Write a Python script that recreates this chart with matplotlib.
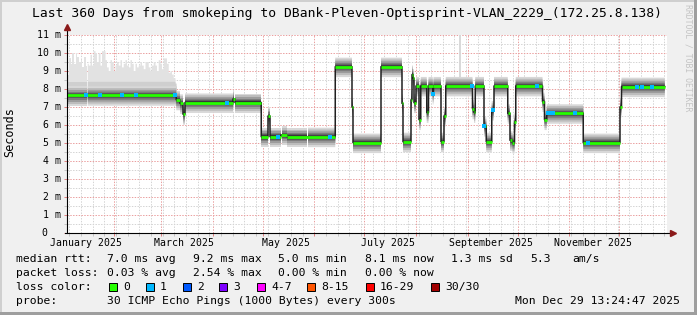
import numpy as np
import matplotlib
matplotlib.use("Agg")
import matplotlib.pyplot as plt
import matplotlib.dates as mdates
import matplotlib.transforms as mtransforms
from matplotlib.patches import Rectangle
from datetime import datetime

# === data ===
START = datetime(2025, 1, 3, 13, 24, 47)
END = datetime(2025, 12, 29, 13, 24, 47)
DATA_END = 358.8  # days after START

# median rtt as steps: day offset from START -> ms
SEG_DAY = [0, 65.4, 67.8, 69.6, 70.8, 99.6, 100.8, 116.4, 120.6, 121.8, 128.4, 132.0,
           160.8, 171.0, 171.6, 188.4, 201.0, 201.6, 206.4, 207.0, 207.6, 208.2, 209.4,
           211.2, 212.2, 215.8, 216.8, 219.4, 219.8, 224.4, 226.2, 227.2, 243.2, 244.2,
           244.8, 250.2, 251.4, 254.8, 256.2, 264.4, 265.8, 267.2, 268.4, 269.2, 285.2,
           286.4, 287.8, 309.6, 331.8, 332.7]
SEG_MS = [7.65, 7.4, 7.2, 6.6, 7.25, 7.45, 7.25, 5.35, 6.5, 5.35, 5.45, 5.35,
          9.24, 7.0, 5.02, 9.24, 7.2, 5.07, 7.4, 8.8, 8.6, 7.24, 8.17,
          6.3, 8.17, 6.7, 8.17, 7.72, 8.17, 5.07, 6.5, 8.17, 6.9, 6.7,
          8.17, 5.94, 5.07, 6.83, 8.17, 6.65, 5.15, 5.0, 6.18, 8.17, 7.3,
          6.3, 6.65, 5.02, 7.0, 8.13]

# smoke spread around the median (ms), outer to inner
SMOKE_ABOVE = [0.50, 0.40, 0.30, 0.21, 0.13, 0.07]
SMOKE_BELOW = [0.58, 0.46, 0.35, 0.25, 0.16, 0.08]
SMOKE_GRAYS = ['#d8d8d8', '#bcbcbc', '#9c9c9c', '#7c7c7c', '#5a5a5a', '#3a3a3a']

# daily max ping during the jittery first weeks (ms)
EARLY_PEAK = [8.8, 9.7, 9.4, 10.0, 9.4, 10.0, 9.8, 9.5, 9.6, 9.2, 9.8, 9.3, 9.4, 9.3,
              9.9, 9.3, 10.1, 10.0, 9.5, 10.0, 9.3, 10.1, 10.1, 9.6, 9.2, 9.0, 9.6,
              9.5, 9.0, 9.3, 9.5, 9.3, 9.6, 9.2, 9.4, 9.6, 9.3, 9.2, 9.6, 9.4, 9.0,
              9.4, 9.2, 9.3, 9.5, 9.3, 9.1, 9.5, 9.5, 9.2, 9.0, 9.3, 9.5, 9.3, 9.0,
              9.6, 9.4, 9.1, 9.7, 9.7, 9.4, 8.9, 9.0, 8.8, 8.6, 8.3]
EARLY_MID = 0.75

SPIKE_DAYS = [235.8]
SPIKE_TOP = [11.0]
GAP_DAYS = [11.8, 100.2, 128.4, 144.0]

LOSS1_DAYS = [11.4, 19.8, 33.0, 41.4, 64.8, 96.0, 126.6, 157.8, 219.4, 243.0,
              250.2, 255.4, 282.0, 288.6, 289.8, 291.6, 304.8, 312.6, 342.0, 345.0, 351.0]

RTT_STATS = ["7.0 ms avg", "9.2 ms max", "5.0 ms min", "8.1 ms now", "1.3 ms sd", "5.3", "am/s"]
LOSS_STATS = ["0.03 % avg", "2.54 % max", "0.00 % min", "0.00 % now"]
LOSS_LABELS = ["0", "1", "2", "3", "4-7", "8-15", "16-29", "30/30"]
LOSS_COLORS = ['#26ff00', '#00b8ff', '#0059ff', '#7e00ff', '#ff00ff', '#ff5500', '#ff0000', '#a00000']

TITLE = "Last 360 Days from smokeping to DBank-Pleven-Optisprint-VLAN_2229_(172.25.8.138)"
PROBE = "30 ICMP Echo Pings (1000 Bytes) every 300s"
STAMP = "Mon Dec 29 13:24:47 2025"

# === layout ===
W, H = 697, 315
FONT = 'DejaVu Sans Mono'
plt.rcParams['font.family'] = FONT


def fx(x):
    return x / W


def fy(y):
    return 1 - y / H


fig = plt.figure(figsize=(W / 100, H / 100), dpi=100, facecolor='#f0f0f0')
ax = fig.add_axes([fx(67), fy(233), 600 / W, 198 / H])
ax.set_facecolor('white')

t0 = mdates.date2num(START)
t1 = mdates.date2num(END)
ax.set_xlim(t0, t1)
ax.set_ylim(0, 11)

# === series on a fine grid ===
days = np.arange(0, DATA_END, 0.15)
seg_day = np.array(SEG_DAY)
seg_ms = np.array(SEG_MS)
med = seg_ms[np.searchsorted(seg_day, days, side='right') - 1]
ok = np.ones_like(days, dtype=bool)
for g in GAP_DAYS:
    ok &= ~((days >= g) & (days < g + 0.6))
tx = t0 + days

# jitter in the first weeks
early = days < len(EARLY_PEAK)
peak = np.full_like(days, np.nan)
peak[early] = np.array(EARLY_PEAK)[days[early].astype(int)]
ax.fill_between(tx, med, peak, where=early & ok, step='post', color='#e2e2e2', lw=0, zorder=2)
ax.fill_between(tx, med, np.minimum(med + EARLY_MID, peak), where=early & ok, step='post',
                color='#cfcfcf', lw=0, zorder=2)

for d, top in zip(SPIKE_DAYS, SPIKE_TOP):
    m = seg_ms[np.searchsorted(seg_day, d, side='right') - 1]
    ax.vlines(t0 + d, m, top, color='#d8d8d8', lw=1.4, zorder=2)

# smoke
for up, lo, c in zip(SMOKE_ABOVE, SMOKE_BELOW, SMOKE_GRAYS):
    ax.fill_between(tx, med - lo, med + up, where=ok, step='post', color=c, lw=0, zorder=3)

# median: black steps, coloured flats
ax.step(tx, med, where='post', color='#202020', lw=1.1, zorder=4)
seg_end = np.append(seg_day[1:], DATA_END)
ax.hlines(seg_ms, t0 + seg_day, t0 + seg_end, color=LOSS_COLORS[0], lw=2.0, zorder=5)
loss1 = np.array(LOSS1_DAYS)
loss1_ms = seg_ms[np.searchsorted(seg_day, loss1, side='right') - 1]
ax.plot(t0 + loss1, loss1_ms, 's', color=LOSS_COLORS[1], ms=2.2, mew=0, zorder=6)

# === grid ===
ax.xaxis.set_major_locator(mdates.MonthLocator())
ax.xaxis.set_minor_locator(mdates.WeekdayLocator(byweekday=mdates.SU))
ax.yaxis.set_major_locator(plt.MultipleLocator(1))
ax.yaxis.set_minor_locator(plt.MultipleLocator(0.5))
ax.grid(which='minor', color='#d4d4d4', lw=0.72, ls=(0, (1.4, 1.4)), zorder=1)
ax.grid(which='major', color='#eaa0a0', lw=0.72, ls=(0, (1.4, 1.4)), zorder=1)
ax.set_axisbelow(True)
ax.tick_params(which='major', length=2.2, width=0.7, color='#e08080', direction='out',
               labelbottom=False, labelleft=False)
ax.tick_params(which='minor', length=2.2, width=0.7, color='#c4c4c4', direction='out')
for s in ax.spines.values():
    s.set_visible(False)

# axes with arrows
arrow_col = '#8b1a1a'
ax.plot([t0, t0], [0, 11.35], color='black', lw=0.8, clip_on=False, zorder=7)
ax.plot([t0 - 1.5, t1 + 3], [0, 0], color='black', lw=0.8, clip_on=False, zorder=7)
ax.plot([t0], [11.45], marker='^', color=arrow_col, ms=4.5, clip_on=False, zorder=8)
ax.plot([t1 + 3.5], [0], marker='>', color=arrow_col, ms=4.5, clip_on=False, zorder=8)

# tick labels
blend_y = mtransforms.blended_transform_factory(fig.transFigure, ax.transData)
for v in range(0, 12):
    if v == 0:
        fig.text(fx(47.5), 0, "0", transform=blend_y, ha='right', va='center', size=7.1)
    else:
        fig.text(fx(60.5), v, f"{v} m", transform=blend_y, ha='right', va='center', size=7.1)

blend_x = mtransforms.blended_transform_factory(ax.transData, fig.transFigure)
for month in [1, 3, 5, 7, 9, 11]:
    mid = mdates.date2num(datetime(2025, month, 15))
    fig.text(mid, fy(242.5), datetime(2025, month, 1).strftime("%B %Y"), transform=blend_x,
             ha='center', va='center', size=7.1)

fig.text(fx(10), fy(132), "Seconds", rotation=90, ha='center', va='center', size=8.5)
fig.text(fx(346.5), fy(14), TITLE, ha='center', va='center', size=9.4)
fig.text(fx(688), fy(4), "RRDTOOL / TOBI OETIKER", rotation=-90, ha='center', va='top',
         size=5.9, color='#c4c4c4')

# === legend ===
LS = 8.2
col_x = [107, 193, 278, 365, 451, 530, 572]
fig.text(fx(16), fy(259), "median rtt:", va='center', size=LS)
for x, s in zip(col_x, RTT_STATS):
    fig.text(fx(x), fy(259), s, va='center', size=LS)
fig.text(fx(16), fy(273), "packet loss:", va='center', size=LS)
for x, s in zip(col_x, LOSS_STATS):
    fig.text(fx(x), fy(273), s, va='center', size=LS)
fig.text(fx(16), fy(287), "loss color:", va='center', size=LS)
box_x = [109, 146, 183, 219, 257, 307, 366, 431]
for x, lab, c in zip(box_x, LOSS_LABELS, LOSS_COLORS):
    fig.patches.append(Rectangle((fx(x), fy(291)), 8 / W, 8 / H, transform=fig.transFigure,
                                 facecolor=c, edgecolor='black', lw=0.7))
    fig.text(fx(x + 14), fy(287), lab, va='center', size=LS)
fig.text(fx(16), fy(301), "probe:", va='center', size=LS)
fig.text(fx(107), fy(301), PROBE, va='center', size=LS)
fig.text(fx(680), fy(301), STAMP, va='center', ha='right', size=LS)

# rrdtool frame shading
fig.patches.append(Rectangle((0, 0), 2 / W, 1, transform=fig.transFigure, color='#cfcfcf', lw=0))
fig.patches.append(Rectangle((0, 1 - 2 / H), 1, 2 / H, transform=fig.transFigure, color='#cfcfcf', lw=0))
fig.patches.append(Rectangle((1 - 3 / W, 0), 3 / W, 1, transform=fig.transFigure, color='#9e9e9e', lw=0))
fig.patches.append(Rectangle((0, 0), 1, 3 / H, transform=fig.transFigure, color='#9e9e9e', lw=0))

fig.savefig("out.png", dpi=100, facecolor=fig.get_facecolor())
